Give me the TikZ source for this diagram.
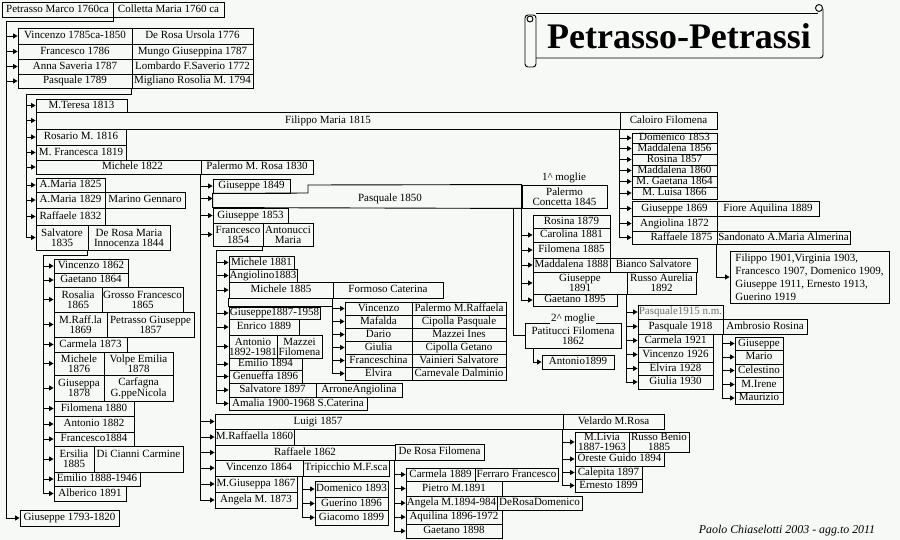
\documentclass[tikz,border=0pt]{standalone}
\usepackage{fontspec}
\setmainfont{Liberation Serif}
\usepackage{tikz}
\usetikzlibrary{arrows.meta}
\definecolor{PaperTint}{RGB}{247,249,246}
\definecolor{FadedGray}{RGB}{112,112,112}
\tikzset{
    person/.style={draw, rectangle, line width=0.9pt, inner sep=0pt, align=center,
        font=\fontsize{11}{10}\selectfont, text height=7.6pt, text depth=2.4pt},
    twoline/.style={text height={}, text depth={}},
    wire/.style={line width=0.9pt},
    link/.style={wire, -{Triangle[length=4.5pt,width=5pt]}},
    note/.style={inner sep=1pt, font=\fontsize{11}{10}\selectfont, text height=7.6pt, text depth=2.4pt}
}
\newcommand{\famcell}[7][]{\node[person, minimum width={#5-#3}, minimum height={#6-#4}, #1] (#2) at ({(#3+#5)/2},{(#4+#6)/2}) {#7};}
\newcommand{\offtext}[2]{\makebox[0pt]{\hspace*{#1}#2}}

\begin{document}
\begin{tikzpicture}[x=1pt, y=-1pt]
                \fill[PaperTint] (0,0) rectangle (900,540);
                \useasboundingbox (0,0) rectangle (900,540);

                \draw[wire, rounded corners=3pt] (525,15) rectangle (536,67);
                \draw[wire] (530,19) circle (3);
                \draw[wire] (536,13) -- (818,13);
                \draw[wire, rounded corners=3pt] (536,58) -- (823,58) -- (823,9);
                \draw[wire] (819,8) circle (3.5);
                \node[font=\fontsize{36}{36}\selectfont\bfseries] (title) at (679,36) {Petrasso-Petrassi};
                \node[font=\fontsize{11.9}{13}\selectfont\itshape] (sign) at (787,531) {Paolo Chiaselotti 2003 - agg.to 2011};

                \famcell{marco}{2}{2}{113}{17}{Petrasso Marco 1760ca}
                \famcell{colletta}{113}{2}{224}{17}{Colletta Maria 1760 ca}

                \famcell{vincenzo1785}{18}{28}{132}{44}{Vincenzo 1785ca-1850}
                \famcell{derosaU}{132}{28}{253}{44}{De Rosa Ursola 1776}
                \famcell{francesco1786}{18}{44}{132}{59}{Francesco 1786}
                \famcell{mungo}{132}{44}{253}{59}{Mungo Giuseppina 1787}
                \famcell{anna1787}{18}{59}{132}{74}{Anna Saveria 1787}
                \famcell{lombardo}{132}{59}{253}{74}{Lombardo F.Saverio 1772}
                \famcell{pasquale1789}{18}{74}{132}{88}{Pasquale 1789}
                \famcell{migliano}{132}{74}{253}{88}{Migliano Rosolia M. 1794}
                \famcell{giuseppe1793}{20}{510}{119}{526}{Giuseppe 1793-1820}

                \famcell{teresa1813}{36}{99}{127}{112}{M.Teresa 1813}
                \famcell{filippo1815}{36}{112}{620}{129}{Filippo Maria 1815}
                \famcell{caloiro}{620}{112}{717}{129}{Caloiro Filomena}
                \famcell{rosario1816}{36}{129}{126}{145}{Rosario M. 1816}
                \famcell{francesca1819}{36}{145}{126}{160}{M. Francesca 1819}
                \famcell{michele1822}{36}{160}{201}{174}{\offtext{28pt}{Michele 1822}}
                \famcell{palermoR}{201}{160}{313}{174}{Palermo M. Rosa 1830}
                \famcell{maria1825}{36}{178}{105}{192}{A.Maria 1825}
                \famcell{maria1829}{36}{192}{105}{208}{A.Maria 1829}
                \famcell{marino}{105}{192}{185}{208}{Marino Gennaro}
                \famcell{raffaele1832}{36}{208}{105}{225}{Raffaele 1832}
                \famcell[twoline]{salvatore1835}{36}{225}{88}{250}{Salvatore\\1835}
                \famcell[twoline]{derosaM}{88}{225}{170}{250}{De Rosa Maria\\Innocenza 1844}

                \famcell{domenico1853}{632}{133}{717}{143}{Domenico 1853}
                \famcell{maddalena1856}{632}{143}{717}{154}{Maddalena 1856}
                \famcell{rosina1857}{632}{154}{717}{165}{Rosina 1857}
                \famcell{maddalena1860}{632}{165}{717}{176}{Maddalena 1860}
                \famcell{gaetana1864}{632}{176}{717}{187}{M. Gaetana 1864}
                \famcell{luisa1866}{632}{187}{717}{199}{M. Luisa 1866}
                \famcell{giuseppe1869}{632}{201}{717}{216}{Giuseppe 1869}
                \famcell{fiore}{717}{201}{819}{216}{Fiore Aquilina 1889}
                \famcell{angiolina1872}{632}{216}{717}{231}{Angiolina 1872}
                \famcell{raffaele1875}{632}{231}{717}{244}{\offtext{14pt}{Raffaele 1875}}
                \famcell{sandonato}{717}{231}{850}{244}{Sandonato A.Maria Almerina}
                \famcell[twoline, align=left, font=\fontsize{11}{13}\selectfont]{filippo1901}{730}{251}{889}{303}{Filippo 1901,Virginia 1903,\\Francesco 1907, Domenico 1909,\\Giuseppe 1911, Ernesto 1913,\\Guerino 1919}

                \famcell{giuseppe1849}{213}{179}{290}{193}{Giuseppe 1849}
                \famcell[draw=none]{pasquale1850}{213}{189}{522}{208}{\offtext{45pt}{Pasquale 1850}}
                \famcell[twoline]{palermoC}{522}{185}{607}{208}{Palermo\\Concetta 1845}
                \node[note] (moglieA) at (564,178) {1\textasciicircum\ moglie};
                \famcell{giuseppe1853}{213}{208}{288}{223}{Giuseppe 1853}
                \draw[wire] (giuseppe1849.south west) -- (308,193) -- (308,185) -- (palermoC.north west) -- (palermoC.south west) -- (giuseppe1853.north west) -- cycle;
                \famcell[twoline]{francesco1854}{213}{223}{263}{246}{Francesco\\1854}
                \famcell[twoline]{antonucci}{263}{223}{313}{246}{Antonucci\\Maria}

                \famcell{michele1881}{229}{256}{294}{269}{Michele 1881}
                \famcell{angiolino1883}{229}{269}{297}{282}{Angiolino1883}
                \famcell{michele1885}{229}{282}{333}{298}{Michele 1885}
                \famcell{formoso}{333}{282}{443}{298}{Formoso Caterina}
                \famcell{giuseppe1887}{229}{307}{320}{319}{Giuseppe1887-1958}
                \draw[wire] (michele1885.south west) rectangle (formoso.south west |- giuseppe1887.north);
                \famcell{enrico1889}{229}{319}{299}{335}{Enrico 1889}
                \famcell[twoline]{antonio1892}{229}{335}{277}{358}{Antonio\\1892-1981}
                \famcell[twoline]{mazzei}{277}{335}{322}{358}{Mazzei\\Filomena}
                \famcell{emilio1894}{229}{358}{302}{370}{Emilio 1894}
                \famcell{genueffa1896}{229}{370}{302}{383}{Genueffa 1896}
                \famcell{salvatore1897}{229}{383}{316}{397}{Salvatore 1897}
                \famcell{arrone}{316}{383}{402}{397}{ArroneAngiolina}
                \famcell{amalia1900}{229}{397}{367}{410}{Amalia 1900-1968 S.Caterina}

                \famcell{vincenzoF}{345}{302}{412}{315}{Vincenzo}
                \famcell{palermoMR}{412}{302}{506}{315}{Palermo M.Raffaela}
                \famcell{mafalda}{345}{315}{412}{328}{Mafalda}
                \famcell{cipollaP}{412}{315}{506}{328}{Cipolla Pasquale}
                \famcell{dario}{345}{328}{412}{341}{Dario}
                \famcell{mazzeiI}{412}{328}{506}{341}{Mazzei Ines}
                \famcell{giulia}{345}{341}{412}{354}{Giulia}
                \famcell{cipollaG}{412}{341}{506}{354}{Cipolla Getano}
                \famcell{franceschina}{345}{354}{412}{367}{Franceschina}
                \famcell{vainieri}{412}{354}{506}{367}{Vainieri Salvatore}
                \famcell{elvira}{345}{367}{412}{380}{Elvira}
                \famcell{carnevale}{412}{367}{506}{380}{Carnevale Dalminio}

                \famcell{luigi1857}{215}{414}{563}{429}{\offtext{-142pt}{Luigi 1857}}
                \famcell{velardo}{563}{414}{664}{429}{Velardo M.Rosa}
                \famcell{raffaella1860}{215}{429}{294}{445}{M.Raffaella 1860}
                \famcell{raffaele1862}{215}{445}{395}{460}{Raffaele 1862}
                \famcell{derosaF}{395}{444}{484}{460}{De Rosa Filomena}
                \famcell{vincenzo1864}{215}{460}{303}{476}{Vincenzo 1864}
                \famcell{tripicchio}{303}{460}{389}{476}{Tripicchio M.F.sca}
                \famcell{giuseppa1867}{215}{476}{297}{492}{M.Giuseppa 1867}
                \famcell{angela1873}{215}{492}{297}{508}{Angela M. 1873}

                \famcell{domenico1893}{315}{481}{388}{497}{Domenico 1893}
                \famcell{guerino1896}{315}{497}{388}{510}{Guerino 1896}
                \famcell{giacomo1899}{315}{510}{388}{525}{Giacomo 1899}

                \famcell{carmela1889}{406}{468}{475}{481}{Carmela 1889}
                \famcell{ferraro}{475}{468}{558}{481}{Ferraro Francesco}
                \famcell{pietro1891}{406}{481}{502}{496}{Pietro M.1891}
                \famcell{angela1894}{406}{496}{497}{510}{Angela M.1894-984}
                \famcell{derosaD}{497}{496}{582}{510}{DeRosaDomenico}
                \famcell{aquilina1896}{406}{510}{502}{524}{Aquilina 1896-1972}
                \famcell{gaetano1898}{406}{524}{502}{538}{Gaetano 1898}

                \famcell[twoline]{livia1887}{575}{432}{629}{452}{M.Livia\\1887-1963}
                \famcell[twoline]{russoB}{629}{432}{689}{452}{Russo Benio\\1885}
                \famcell{oreste1894}{575}{452}{664}{466}{Oreste Guido 1894}
                \famcell{calepita1897}{575}{466}{642}{479}{Calepita 1897}
                \famcell{ernesto1899}{575}{479}{642}{492}{Ernesto 1899}

                \famcell{vincenzo1862}{54}{259}{128}{273}{Vincenzo 1862}
                \famcell{gaetano1864}{54}{273}{128}{287}{Gaetano 1864}
                \famcell[twoline]{rosalia1865}{54}{287}{102}{312}{Rosalia\\1865}
                \famcell[twoline]{grosso}{102}{287}{183}{312}{Grosso Francesco\\1865}
                \famcell[twoline]{raffla1869}{54}{312}{107}{337}{M.Raff.la\\1869}
                \famcell[twoline]{petrassoG}{107}{312}{194}{337}{Petrasso Giuseppe\\1857}
                \famcell{carmela1873}{54}{337}{127}{352}{Carmela 1873}
                \famcell[twoline]{michele1876}{54}{352}{104}{375}{Michele\\1876}
                \famcell[twoline]{volpe}{104}{352}{173}{375}{Volpe Emilia\\1878}
                \famcell[twoline]{giuseppa1878}{54}{375}{104}{401}{Giuseppa\\1878}
                \famcell[twoline]{carfagna}{104}{375}{173}{401}{Carfagna\\G.ppeNicola}
                \famcell{filomena1880}{54}{401}{134}{416}{Filomena 1880}
                \famcell{antonio1882}{54}{416}{134}{432}{Antonio 1882}
                \famcell{francesco1884}{54}{432}{134}{446}{Francesco1884}
                \famcell[twoline]{ersilia1885}{54}{446}{94}{472}{Ersilia\\1885}
                \famcell[twoline]{dicianni}{94}{446}{183}{472}{Di Cianni Carmine\\\mbox{}}
                \famcell{emilio1888}{54}{472}{140}{486}{Emilio 1888-1946}
                \famcell{alberico1891}{54}{486}{126}{501}{Alberico 1891}

                \famcell{rosina1879}{533}{215}{610}{228}{Rosina 1879}
                \famcell{carolina1881}{533}{228}{610}{242}{Carolina 1881}
                \famcell{filomena1885}{533}{242}{610}{258}{Filomena 1885}
                \famcell{maddalena1888}{533}{258}{610}{272}{Maddalena 1888}
                \famcell{bianco}{610}{258}{697}{272}{Bianco Salvatore}
                \famcell[twoline]{giuseppe1891}{533}{272}{627}{294}{Giuseppe\\1891}
                \famcell[twoline]{russoA}{627}{272}{696}{294}{Russo Aurelia\\1892}
                \famcell{gaetano1895}{533}{294}{617}{306}{Gaetano 1895}

                \famcell[twoline]{patitucci}{525}{323}{621}{348}{Patitucci Filomena\\1862}
                \node[note, fill=PaperTint] (moglieB) at (573,318.5) {2\textasciicircum\ moglie};
                \famcell{antonio1899}{542}{355}{614}{369}{Antonio1899}

                \famcell[text=FadedGray]{pasquale1915}{638}{305}{723}{319}{Pasquale1915 n.m.}
                \famcell{pasquale1918}{638}{319}{723}{334}{Pasquale 1918}
                \famcell{ambrosio}{723}{319}{807}{334}{Ambrosio Rosina}
                \famcell{carmela1921}{638}{334}{713}{347}{Carmela 1921}
                \famcell{vincenzo1926}{638}{347}{713}{362}{Vincenzo 1926}
                \famcell{elvira1928}{638}{362}{713}{375}{Elvira 1928}
                \famcell{giulia1930}{638}{375}{713}{389}{Giulia 1930}

                \famcell{giuseppeA}{735}{337}{783}{350}{Giuseppe}
                \famcell{mario}{735}{350}{783}{364}{Mario}
                \famcell{celestino}{735}{364}{783}{377}{Celestino}
                \famcell{irene}{735}{377}{783}{392}{M.Irene}
                \famcell{maurizio}{735}{392}{783}{404}{Maurizio}

                \coordinate (busA) at (6,21);
                \draw[link] (marco.south east) |- (busA) |- (giuseppe1793.west);
                \foreach \kid in {vincenzo1785,francesco1786,anna1787,pasquale1789}
                    \draw[link] (busA |- \kid.west) -- (\kid.west);

                \coordinate (busB) at (26,94);
                \draw[link] (migliano.south west) |- (busB) |- (salvatore1835.west);
                \foreach \kid in {teresa1813,filippo1815,rosario1816,francesca1819,michele1822,maria1825,maria1829,raffaele1832}
                    \draw[link] (busB |- \kid.west) -- (\kid.west);

                \draw[link] (caloiro.south west) |- (raffaele1875.west);
                \foreach \kid in {domenico1853,maddalena1856,rosina1857,maddalena1860,gaetana1864,luisa1866,giuseppe1869,angiolina1872}
                    \draw[link] (caloiro.south west |- \kid.west) -- (\kid.west);
                \draw[link] (sandonato.south west) |- (filippo1901.west);

                \draw[link] (palermoR.south west) |- (angela1873.west);
                \foreach \kid in {giuseppe1849,pasquale1850,giuseppe1853,francesco1854,luigi1857,raffaella1860,raffaele1862,vincenzo1864,giuseppa1867}
                    \draw[link] (palermoR.south west |- \kid.west) -- (\kid.west);

                \coordinate (busF) at (43,255);
                \draw[link] (derosaM.south west) |- (busF) |- (alberico1891.west);
                \foreach \kid in {vincenzo1862,gaetano1864,rosalia1865,raffla1869,carmela1873,michele1876,giuseppa1878,filomena1880,antonio1882,francesco1884,ersilia1885,emilio1888}
                    \draw[link] (busF |- \kid.west) -- (\kid.west);

                \coordinate (busG) at (216,250);
                \draw[link] (antonucci.south west) |- (busG) |- (amalia1900.west);
                \foreach \kid in {michele1881,angiolino1883,michele1885,giuseppe1887,enrico1889,antonio1892,emilio1894,genueffa1896,salvatore1897}
                    \draw[link] (busG |- \kid.west) -- (\kid.west);

                \draw[link] (formoso.south west) |- (elvira.west);
                \foreach \kid in {vincenzoF,mafalda,dario,giulia,franceschina}
                    \draw[link] (formoso.south west |- \kid.west) -- (\kid.west);

                \coordinate (busI) at (513,208);
                \draw[wire] (busI) |- (patitucci.west);
                \coordinate (busK) at (533,348);
                \draw[link] (busK) |- (antonio1899.west);

                \draw[link] (palermoC.south west) |- (gaetano1895.west);
                \foreach \kid in {carolina1881,filomena1885,maddalena1888,giuseppe1891}
                    \draw[link] (palermoC.south west |- \kid.west) -- (\kid.west);

                \draw[link] (russoA.south west) |- (giulia1930.west);
                \foreach \kid in {pasquale1915,pasquale1918,carmela1921,vincenzo1926,elvira1928}
                    \draw[link] (russoA.south west |- \kid.west) -- (\kid.west);

                \draw[link] (ambrosio.south west) |- (maurizio.west);
                \foreach \kid in {giuseppeA,mario,celestino,irene}
                    \draw[link] (ambrosio.south west |- \kid.west) -- (\kid.west);

                \draw[link] (velardo.south west) |- (ernesto1899.west);
                \foreach \kid in {livia1887,oreste1894,calepita1897}
                    \draw[link] (velardo.south west |- \kid.west) -- (\kid.west);

                \draw[link] (derosaF.south west) |- (gaetano1898.west);
                \foreach \kid in {carmela1889,pietro1891,angela1894,aquilina1896}
                    \draw[link] (derosaF.south west |- \kid.west) -- (\kid.west);

                \draw[link] (tripicchio.south west) |- (giacomo1899.west);
                \foreach \kid in {domenico1893,guerino1896}
                    \draw[link] (tripicchio.south west |- \kid.west) -- (\kid.west);
            \end{tikzpicture}
\end{document}
